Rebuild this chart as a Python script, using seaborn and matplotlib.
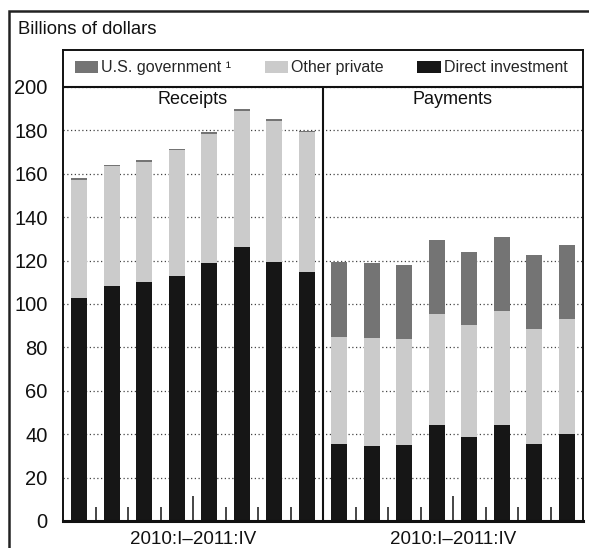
import numpy as np
import pandas as pd
import seaborn as sns
import matplotlib.pyplot as plt
from matplotlib.patches import Patch, Rectangle

# quarters shown in each panel
quarters = ['2010:I', '2010:II', '2010:III', '2010:IV',
            '2011:I', '2011:II', '2011:III', '2011:IV']
period_label = '2010:I\u20132011:IV'
panels = ['Receipts', 'Payments']

# billions of dollars
rec_direct = [102.8, 108.3, 110.1, 112.9, 118.9, 126.3, 119.4, 114.6]
rec_other = [54.5, 55.2, 55.5, 57.8, 59.6, 62.8, 65.1, 64.5]
rec_gov = [0.6, 0.6, 0.6, 0.6, 0.6, 0.6, 0.6, 0.6]

pay_direct = [35.5, 34.4, 35.0, 44.4, 38.6, 44.4, 35.6, 40.1]
pay_other = [49.4, 49.8, 48.7, 50.9, 51.6, 52.5, 52.9, 52.8]
pay_gov = [34.6, 34.6, 34.4, 34.1, 33.9, 34.0, 34.1, 34.4]

legend_labels = ['U.S. government \u00b9', 'Other private', 'Direct investment']
colors = {'gov': '#747474', 'other': '#cbcbcb', 'direct': '#161616'}

n = len(quarters)
df = pd.DataFrame({
    'panel': [panels[0]] * n + [panels[1]] * n,
    'quarter': quarters * 2,
    'direct': rec_direct + pay_direct,
    'other': rec_other + pay_other,
    'gov': rec_gov + pay_gov,
})
df['pos'] = np.arange(2 * n) + 0.5
df['top_other'] = df['direct'] + df['other']
df['top_gov'] = df['top_other'] + df['gov']

sns.set_style('white')
plt.rcParams['font.family'] = ['Liberation Sans', 'DejaVu Sans']

fig = plt.figure(figsize=(5.89, 5.48), dpi=100)
ax = fig.add_axes([63 / 589, 27 / 548, 520 / 589, 471 / 548])

# stacked bars: draw cumulative tops, largest first
for col, key in [('top_gov', 'gov'), ('top_other', 'other'), ('direct', 'direct')]:
    sns.barplot(data=df, x='pos', y=col, native_scale=True, width=0.5,
                color=colors[key], saturation=1, linewidth=0, errorbar=None, ax=ax)

ax.set_xlim(0, 2 * n)
ax.set_ylim(0, 217)
ax.set_xlabel('')
ax.set_ylabel('')

ax.set_yticks(range(0, 201, 20))
ax.tick_params(axis='y', length=0, pad=11, labelsize=14.5, labelcolor='#111')
ax.set_axisbelow(True)
ax.yaxis.grid(True, linestyle=(0, (1, 2)), color='#444', linewidth=0.9)

ax.set_xticks([n / 2, n + n / 2], [period_label, period_label])
ax.set_xticks([k for k in range(1, 2 * n) if k % (n // 2) != 0], minor=True)
ax.tick_params(axis='x', which='major', direction='in', length=18, width=1.2,
               pad=7, labelsize=13.5, labelcolor='#111', bottom=True)
ax.tick_params(axis='x', which='minor', direction='in', length=10, width=1.2, bottom=True)

for s in ax.spines.values():
    s.set_linewidth(1.4)
    s.set_color('#111')
ax.spines['bottom'].set_linewidth(2.2)

ax.axhline(200, color='#111', linewidth=1.5)
ax.axvline(n, ymax=200 / 217, color='#111', linewidth=1.5)

for i, name in enumerate(panels):
    ax.text(n / 2 + i * n, 194, name, ha='center', va='center', fontsize=13, color='#111')

handles = [Patch(facecolor=colors[k], edgecolor='none') for k in ['gov', 'other', 'direct']]
ax.legend(handles, legend_labels, ncol=3, loc='center left', bbox_to_anchor=(0.023, 0.962),
          frameon=False, borderpad=0, borderaxespad=0, handlelength=1.45, handleheight=0.8,
          handletextpad=0.2, columnspacing=2.1, fontsize=11.5)

fig.text(18 / 589, 1 - 30 / 548, 'Billions of dollars', fontsize=13.3, va='center', color='#111')
fig.add_artist(Rectangle((9 / 589, -0.05), 1.2, (548 - 11) / 548 + 0.05,
                         transform=fig.transFigure, fill=False, linewidth=1.8, edgecolor='#222'))

fig.savefig('out.png', dpi=100)
